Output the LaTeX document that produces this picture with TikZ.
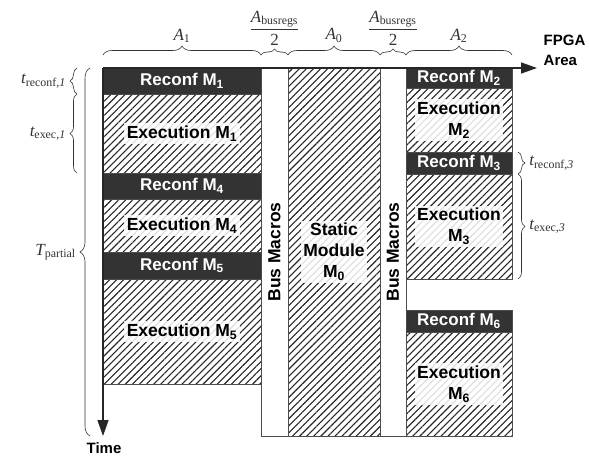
\documentclass[tikz,border=0pt]{standalone}
\usepackage{fontspec}
\setmainfont{Liberation Serif}
\setsansfont{Liberation Sans}
\usetikzlibrary{positioning,patterns.meta,decorations.pathreplacing,arrows.meta}

\newcommand{\lbsub}[2]{{\itshape #1}\textsubscript{#2}}
\newcommand{\halfbus}{$\displaystyle\frac{\mbox{\lbsub{A}{busregs}}}{\mbox{2}}$}

\tikzstyle{block}=[draw=black!70, line width=0.8pt, inner sep=0pt, outer sep=0pt,
                   anchor=north west, minimum width=158pt]
\tikzstyle{colB}=[minimum width=106pt]
\tikzstyle{reconf}=[block, fill=black!80, text=white,
                    font=\sffamily\bfseries\fontsize{17}{18}\selectfont]
\tikzstyle{exec}=[block, pattern={Lines[angle=45,distance=5pt,line width=1.1pt]},
                  pattern color=black!85]
\tikzstyle{busbox}=[block, fill=white, minimum height=368pt]
\tikzstyle{lbl}=[fill=white, fill opacity=0.85, text opacity=1, inner sep=2.5pt,
                 align=center, font=\sffamily\bfseries\fontsize{17.5}{21}\selectfont]
\tikzstyle{brc}=[decorate, decoration={brace, amplitude=#1}, line width=0.6pt, black!80]
\tikzstyle{sym}=[inner sep=0pt, font=\fontsize{17}{19}\selectfont]
\tikzstyle{axis}=[line width=1.4pt, black!85, -{Triangle[length=16pt,width=11pt]}]

\begin{document}
\begin{tikzpicture}[x=1pt,y=-1pt]
  \useasboundingbox (0,0) rectangle (589,460);

  % column A1
  \node[reconf, minimum height=26pt] (r1) at (103,68) {Reconf M\textsubscript{1}};
  \node[exec, minimum height=79pt, below=0pt of r1] (e1) {};
  \node[reconf, minimum height=26pt, below=0pt of e1] (r4) {Reconf M\textsubscript{4}};
  \node[exec, minimum height=53pt, below=0pt of r4] (e4) {};
  \node[reconf, minimum height=27pt, below=0pt of e4] (r5) {Reconf M\textsubscript{5}};
  \node[exec, minimum height=105pt, below=0pt of r5] (e5) {};

  % bus macros and static module
  \node[busbox, minimum width=27pt] (bus1) at (r1.north east) {};
  \node[exec, minimum width=92pt, minimum height=368pt] (m0) at (bus1.north east) {};
  \node[busbox, minimum width=26pt] (bus2) at (m0.north east) {};

  % column A2
  \node[reconf, colB, minimum height=20pt] (r2) at (bus2.north east) {Reconf M\textsubscript{2}};
  \node[exec, colB, minimum height=64pt, below=0pt of r2] (e2) {};
  \node[reconf, colB, minimum height=22pt, below=0pt of e2] (r3) {Reconf M\textsubscript{3}};
  \node[exec, colB, minimum height=105pt, below=0pt of r3] (e3) {};
  \node[reconf, colB, minimum height=22pt, below=31pt of e3] (r6) {Reconf M\textsubscript{6}};
  \node[exec, colB, minimum height=104pt, below=0pt of r6] (e6) {};

  % texts
  \node[lbl] (t1) at (e1) {Execution M\textsubscript{1}};
  \node[lbl] (t4) at (e4) {Execution M\textsubscript{4}};
  \node[lbl] (t5) at (e5) {Execution M\textsubscript{5}};
  \node[lbl] (t2) at (e2) {Execution\\M\textsubscript{2}};
  \node[lbl] (t3) at (e3) {Execution\\M\textsubscript{3}};
  \node[lbl] (t6) at (e6) {Execution\\M\textsubscript{6}};
  \node[lbl] (t0) at (m0) {Static\\Module\\M\textsubscript{0}};
  \node[lbl, fill=none, rotate=90] (bm1) at (bus1) {Bus Macros};
  \node[lbl, fill=none, rotate=90] (bm2) at (bus2) {Bus Macros};

  % axes
  \coordinate (o) at (103,68);
  \coordinate (xend) at (537,68);
  \coordinate (yend) at (103,436);
  \draw[axis] (o) -- (xend);
  \draw[axis] (o) -- (yend);
  \node[lbl, fill=none, anchor=west, align=left, font=\sffamily\bfseries\fontsize{15}{20}\selectfont]
    (fpga) at (541,50) {FPGA\\Area};
  \node[lbl, fill=none, font=\sffamily\bfseries\fontsize{15}{18}\selectfont] (time) at (104,448) {Time};

  % top braces
  \draw[brc=9pt] ([yshift=13pt]r1.north west) -- ([yshift=13pt]r1.north east)
    node[sym, midway, above=12pt] (a1) {\lbsub{A}{1}};
  \draw[brc=6pt] ([yshift=13pt]bus1.north west) -- ([yshift=13pt]bus1.north east)
    node[sym, midway, above=9pt] (ab1) {\halfbus};
  \draw[brc=9pt] ([yshift=13pt]m0.north west) -- ([yshift=13pt]m0.north east)
    node[sym, midway, above=12pt] (a0) {\lbsub{A}{0}};
  \draw[brc=6pt] ([yshift=13pt]bus2.north west) -- ([yshift=13pt]bus2.north east)
    node[sym, midway, above=9pt] (ab2) {\halfbus};
  \draw[brc=9pt] ([yshift=13pt]r2.north west) -- ([yshift=13pt]r2.north east)
    node[sym, midway, above=12pt] (a2) {\lbsub{A}{2}};

  % left braces
  \draw[brc=7pt] ([xshift=-26pt]r1.south west) -- ([xshift=-26pt]r1.north west)
    node[sym, midway, left=11pt] (tr1) {\lbsub{t}{reconf,\itshape 1}};
  \draw[brc=7pt] ([xshift=-26pt]e1.south west) -- ([xshift=-26pt]e1.north west)
    node[sym, midway, left=11pt] (te1) {\lbsub{t}{exec,\itshape 1}};
  \draw[brc=10pt] ([xshift=-13pt]yend) -- ([xshift=-13pt]o)
    node[sym, midway, left=14pt] (tp) {\lbsub{T}{partial}};

  % right braces
  \draw[brc=7pt] ([xshift=6pt]r3.north east) -- ([xshift=6pt]r3.south east)
    node[sym, midway, right=11pt] (tr3) {\lbsub{t}{reconf,\itshape 3}};
  \draw[brc=7pt] ([xshift=6pt]e3.north east) -- ([xshift=6pt]e3.south east)
    node[sym, midway, right=11pt] (te3) {\lbsub{t}{exec,\itshape 3}};
\end{tikzpicture}
\end{document}
